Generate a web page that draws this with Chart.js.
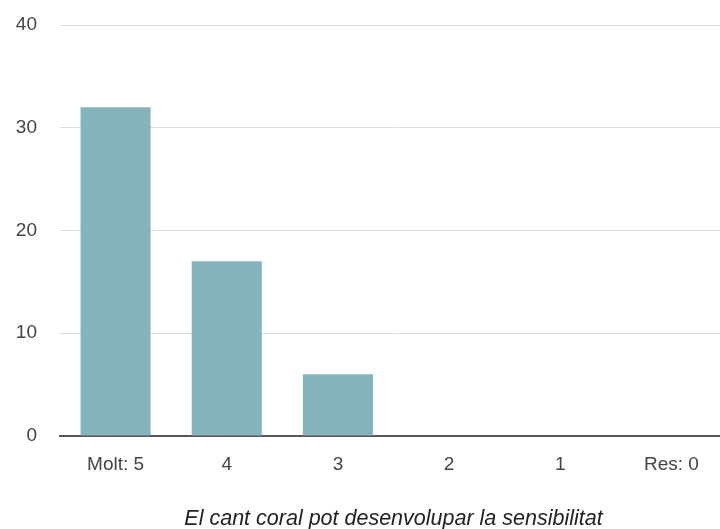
<!DOCTYPE html>
<html>
<head>
<meta charset="utf-8">
<title>El cant coral pot desenvolupar la sensibilitat</title>
<script src="https://cdn.jsdelivr.net/npm/chart.js@4"></script>
<style>
  html, body { margin: 0; padding: 0; background: #fff; overflow: hidden; }
  .chart-wrap { width: 727px; height: 529px; }
</style>
</head>
<body>
<div class="chart-wrap"><canvas id="surveyChart"></canvas></div>
<script>
// Data
const categories = ['Molt: 5', '4', '3', '2', '1', 'Res: 0'];
const answers = [32, 17, 6, 0, 0, 0];
const yTicks = [0, 10, 20, 30, 40];
const axisTitle = 'El cant coral pot desenvolupar la sensibilitat';

const textColor = '#444';
const baseFont = { family: '"Liberation Sans", Arial, sans-serif', size: 19 };

new Chart(document.getElementById('surveyChart'), {
  type: 'bar',
  data: {
    labels: categories,
    datasets: [{
      data: answers,
      backgroundColor: '#85b4bc',
      borderWidth: 0,
      barPercentage: 0.63,
      categoryPercentage: 1
    }]
  },
  options: {
    responsive: true,
    maintainAspectRatio: false,
    animation: false,
    layout: { padding: { top: 25, right: 0, bottom: 0, left: 0 } },
    plugins: {
      legend: { display: false },
      tooltip: { enabled: false }
    },
    scales: {
      x: {
        grid: { display: false },
        border: { color: '#555', width: 2 },
        ticks: { color: textColor, font: baseFont, padding: 9 },
        title: {
          display: true,
          text: axisTitle,
          color: '#222',
          font: { family: baseFont.family, size: 21.5, style: 'italic' },
          padding: { top: 20, bottom: -3 }
        },
        afterFit: s => { s.height = 93; s.paddingLeft = 0; s.paddingRight = 0; }
      },
      y: {
        min: 0,
        max: 40,
        afterBuildTicks: s => { s.ticks = yTicks.map(v => ({ value: v })); },
        grid: { color: '#dcdcdc', lineWidth: 1, drawTicks: false },
        border: { display: false },
        ticks: { color: textColor, font: baseFont, padding: 23 },
        afterFit: s => { s.width = 60; s.paddingTop = 0; s.paddingBottom = 0; }
      }
    }
  }
});
</script>
</body>
</html>
